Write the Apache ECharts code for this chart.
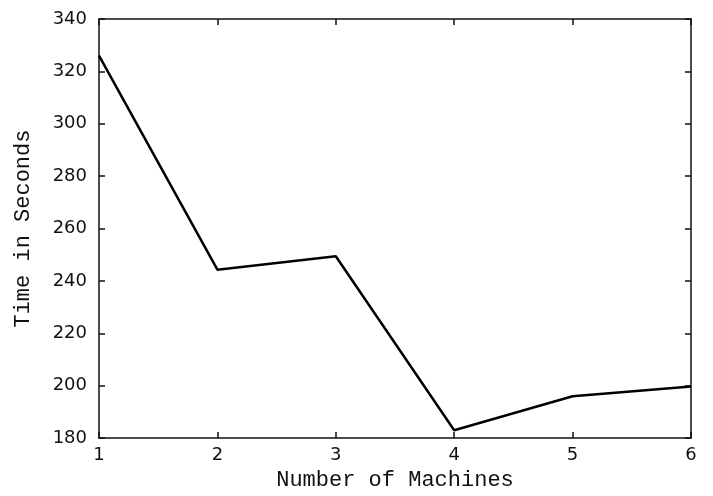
<!DOCTYPE html>
<html>
<head>
<meta charset="utf-8">
<script src="https://cdn.jsdelivr.net/npm/echarts@6/dist/echarts.min.js"></script>
<style>
html,body{margin:0;padding:0;background:#fff;}
#chart{width:713px;height:496px;}
</style>
</head>
<body>
<div id="chart"></div>
<script>
var machines = [1, 2, 3, 4, 5, 6];
var timeSeconds = [326, 244.3, 249.4, 183, 196, 199.7];
var xTicks = [1, 2, 3, 4, 5, 6];
var yTicks = [180, 200, 220, 240, 260, 280, 300, 320, 340];

var chart = echarts.init(document.getElementById('chart'), null, {renderer: 'canvas'});
var seriesData = machines.map(function (m, i) { return [m, timeSeconds[i]]; });
var labelFont = {color: '#111', fontFamily: 'DejaVu Sans', fontSize: 18};
var nameFont = {color: '#111', fontFamily: 'Liberation Mono', fontSize: 22};
var lineStyle = {color: '#111', width: 1.5};

chart.setOption({
  animation: false,
  backgroundColor: '#fff',
  grid: {left: 99, right: 22, top: 19, bottom: 53, containLabel: false},
  xAxis: [{
    type: 'value', min: xTicks[0], max: xTicks[xTicks.length - 1], interval: 1,
    name: 'Number of Machines', nameLocation: 'middle', nameGap: 26,
    nameTextStyle: nameFont,
    axisLine: {show: true, onZero: false, lineStyle: lineStyle},
    axisTick: {show: true, inside: true, length: 6, lineStyle: lineStyle},
    axisLabel: Object.assign({margin: 8}, labelFont),
    splitLine: {show: false}
  }, {
    type: 'value', position: 'top', min: xTicks[0], max: xTicks[xTicks.length - 1], interval: 1,
    axisLine: {show: true, onZero: false, lineStyle: lineStyle},
    axisTick: {show: true, inside: true, length: 6, lineStyle: lineStyle},
    axisLabel: {show: false}, splitLine: {show: false}
  }],
  yAxis: [{
    type: 'value', min: yTicks[0], max: yTicks[yTicks.length - 1], interval: 20,
    name: 'Time in Seconds', nameLocation: 'middle', nameGap: 65,
    nameTextStyle: nameFont,
    axisLine: {show: true, onZero: false, lineStyle: lineStyle},
    axisTick: {show: true, inside: true, length: 6, lineStyle: lineStyle},
    axisLabel: Object.assign({margin: 12}, labelFont),
    splitLine: {show: false}
  }, {
    type: 'value', position: 'right', min: yTicks[0], max: yTicks[yTicks.length - 1], interval: 20,
    axisLine: {show: true, onZero: false, lineStyle: lineStyle},
    axisTick: {show: true, inside: true, length: 6, lineStyle: lineStyle},
    axisLabel: {show: false}, splitLine: {show: false}
  }],
  series: [{
    type: 'line', data: seriesData, xAxisIndex: 0, yAxisIndex: 0,
    showSymbol: false, symbol: 'none',
    lineStyle: {color: '#000', width: 2.5}
  }]
});
</script>
</body>
</html>
